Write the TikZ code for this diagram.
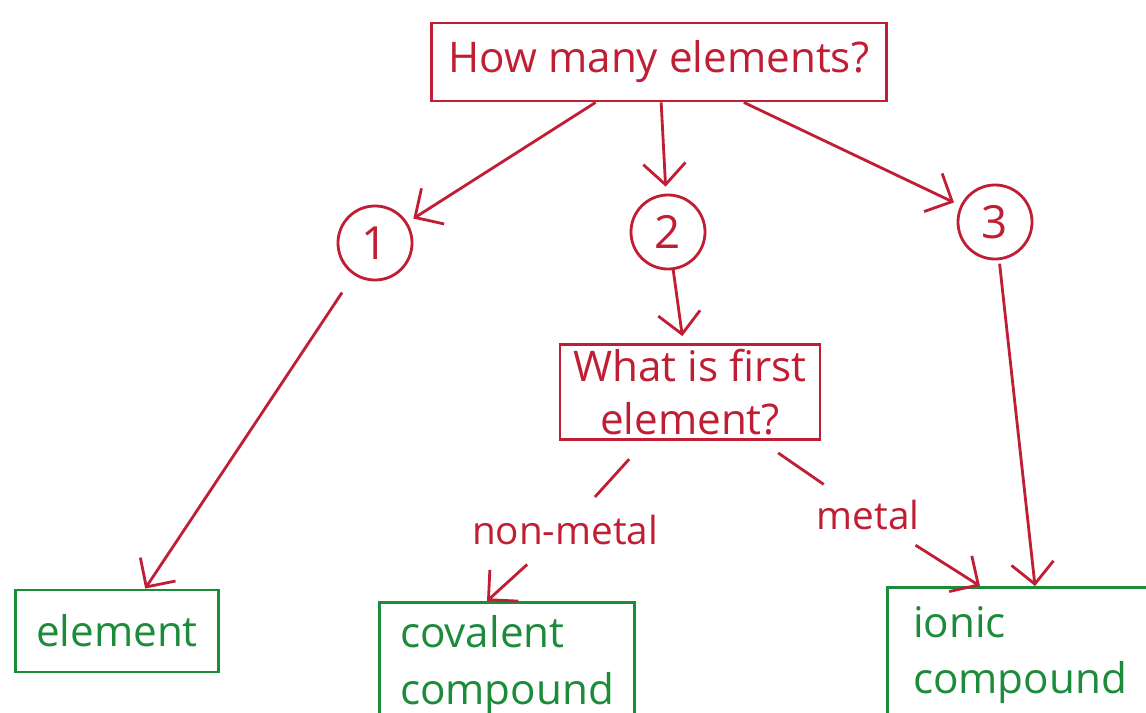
\documentclass[tikz,border=0pt]{standalone}
\definecolor{penred}{RGB}{192, 30, 52}
\definecolor{pengreen}{RGB}{28, 140, 58}
\usepackage{fontspec}
\setmainfont{Open Sans}
\usetikzlibrary{shapes, arrows.meta, positioning, calc}

\begin{document}
\begin{tikzpicture}[x=0.01cm, y=-0.01cm,
    qbox/.style={draw=penred, text=penred, line width=0.8pt, align=center, inner sep=0pt, font=\fontsize{12}{15}\selectfont},
    count/.style={circle, draw=penred, text=penred, line width=0.8pt, minimum size=0.74cm, inner sep=0pt, font=\fontsize{13}{15}\selectfont},
    answer/.style={draw=pengreen, text=pengreen, line width=0.8pt, inner sep=0pt, font=\fontsize{12}{16}\selectfont},
    branch/.style={text=penred, inner sep=2pt, font=\fontsize{11}{13}\selectfont},
    link/.style={draw=penred, line width=0.8pt, -{Straight Barb[length=6pt, width=12pt]}},
    pen/.style={draw=penred, line width=0.8pt}]
  \path[use as bounding box] (0,0) rectangle (1146,712);
  \clip (0,0) rectangle (1146,712);
  \fill[white] (0,0) rectangle (1146,712);

  % questions and counts
  \node[qbox, minimum width=4.55cm, minimum height=0.78cm] (howmany) at (659,62) {How many elements?};
  \node[count] (one) at (375,243) {1};
  \node[count] (two) at (668,232) {2};
  \node[count] (three) at (995,222) {3};
  \node[qbox, minimum width=2.6cm, minimum height=0.95cm] (first) at (690,392) {What is first\\element?};

  % answers
  \node[answer, minimum width=2.03cm, minimum height=0.82cm] (element) at (117,631) {element};
  \node[answer, minimum width=2.55cm, minimum height=1.25cm, align=left] (covalent) at (507,665) {covalent\\compound};
  \node[answer, minimum width=2.65cm, minimum height=1.35cm, align=left] (ionic) at (1020,655) {ionic\\compound};

  \node[branch] (nonmetal) at (565,530) {non-metal};
  \node[branch] (metal) at (868,515) {metal};

  % arrows
  \draw[link, shorten >=2pt] (howmany) -- (one);
  \draw[link, shorten >=2pt] (howmany) -- (two);
  \draw[link, shorten >=2pt] (howmany) -- (three);
  \draw[link, shorten <=6pt] (one) -- (element);
  \draw[link, shorten >=2pt] (two) -- (first);
  \draw[pen, shorten <=7pt, shorten >=4pt] (first) -- (nonmetal);
  \draw[link, shorten <=5pt] (nonmetal) -- ($(covalent.north)+(-20,0)$);
  \draw[pen, shorten <=6pt, shorten >=4pt] (first) -- (metal);
  \draw[link, shorten <=4pt] (metal) -- ($(ionic.north)+(-40,0)$);
  \draw[link, shorten <=1pt] (three) -- ($(ionic.north)+(15,0)$);
\end{tikzpicture}
\end{document}
